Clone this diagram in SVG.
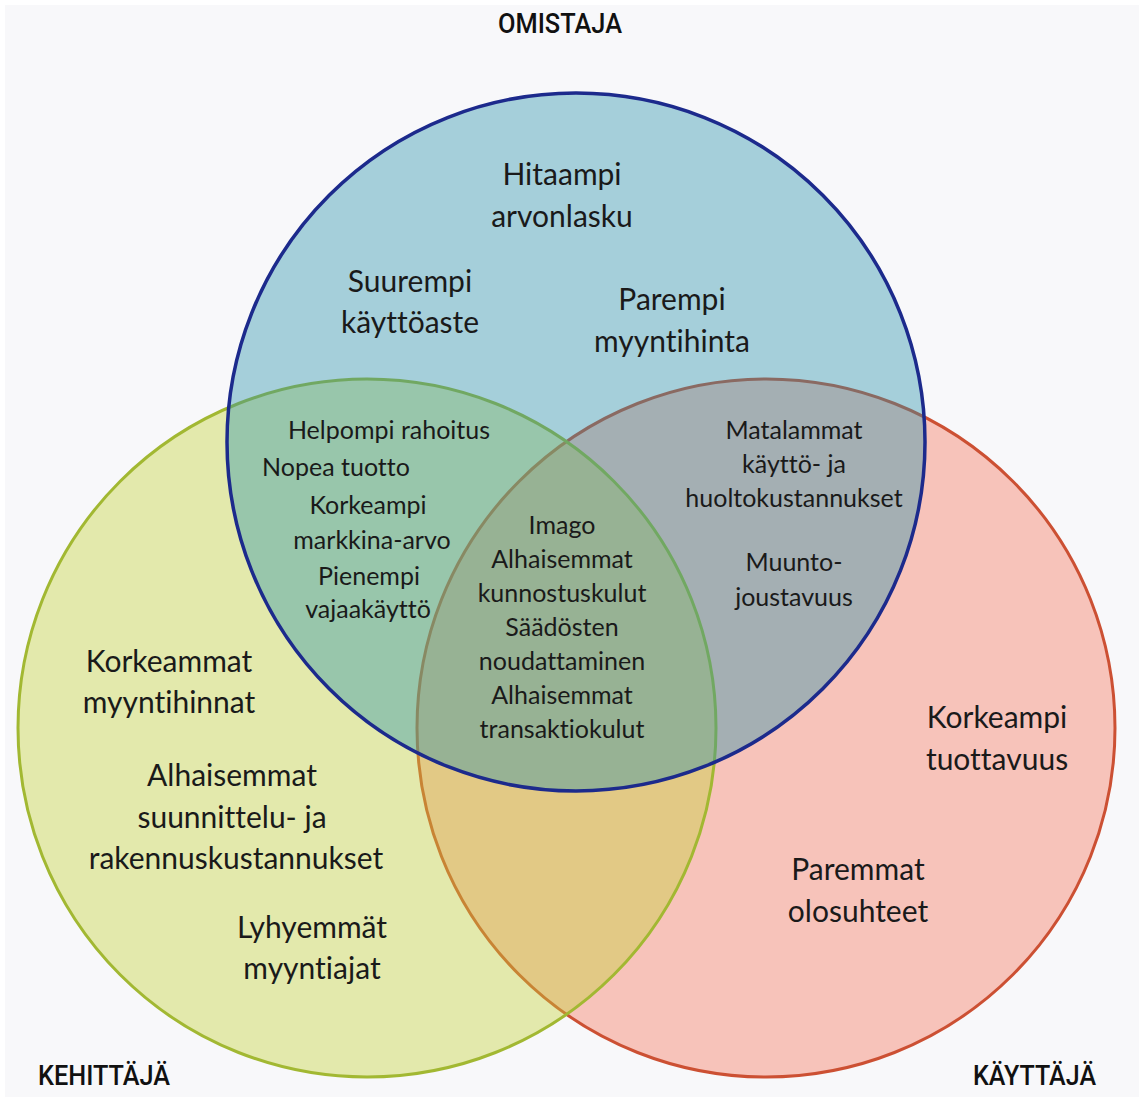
<svg xmlns="http://www.w3.org/2000/svg" width="1144" height="1102" viewBox="0 0 1144 1102">
<style>
.t{font-family:Lato,"Noto Sans","Liberation Sans",sans-serif;fill:#1a1a1a;text-anchor:middle;font-variant-ligatures:none;font-feature-settings:"liga" 0,"clig" 0}
.big{font-size:30px}
.sm{font-size:25px}
.lab{font-family:Roboto,"Liberation Sans",sans-serif;font-weight:500;font-size:27px;fill:#111}
</style>
<rect x="0" y="0" width="1144" height="1102" fill="#ffffff"/>
<rect x="5" y="5" width="1134" height="1092" fill="#f8f8fa"/>
<g id="kayttaja">
<circle cx="766" cy="728" r="349" fill="#f7c3ba" stroke="#cc5033" stroke-width="3"/>
</g>
<g id="kehittaja">
<circle cx="367" cy="728" r="349" fill="#c4d336" fill-opacity="0.4" stroke="#a2b832" stroke-width="3"/>
</g>
<g id="omistaja">
<circle cx="576" cy="442" r="349" fill="#2790ab" fill-opacity="0.4" stroke="#1c2a8c" stroke-width="3.5"/>
</g>
<g id="labels">
<text class="lab" x="560" y="33" text-anchor="middle" textLength="124" lengthAdjust="spacingAndGlyphs">OMISTAJA</text>
<text class="lab" x="38" y="1085" textLength="132" lengthAdjust="spacingAndGlyphs">KEHITTÄJÄ</text>
<text class="lab" x="973" y="1085" textLength="123" lengthAdjust="spacingAndGlyphs">KÄYTTÄJÄ</text>
</g>
<g id="omistaja-text" class="t big">
<text x="562" y="185">Hitaampi</text>
<text x="562" y="227">arvonlasku</text>
<text x="410" y="292">Suurempi</text>
<text x="410" y="333">käyttöaste</text>
<text x="672" y="310">Parempi</text>
<text x="672" y="352">myyntihinta</text>
</g>
<g id="kehittaja-text" class="t big">
<text x="169" y="672">Korkeammat</text>
<text x="169" y="713">myyntihinnat</text>
<text x="232" y="786">Alhaisemmat</text>
<text x="232" y="828">suunnittelu- ja</text>
<text x="236" y="869">rakennuskustannukset</text>
<text x="312" y="938">Lyhyemmät</text>
<text x="312" y="979">myyntiajat</text>
</g>
<g id="kayttaja-text" class="t big">
<text x="997" y="728">Korkeampi</text>
<text x="997" y="770">tuottavuus</text>
<text x="858" y="880">Paremmat</text>
<text x="858" y="922">olosuhteet</text>
</g>
<g id="omistaja-kehittaja" class="t sm">
<text x="389" y="439">Helpompi rahoitus</text>
<text x="336" y="476">Nopea tuotto</text>
<text x="368" y="514">Korkeampi</text>
<text x="372" y="549">markkina-arvo</text>
<text x="369" y="585">Pienempi</text>
<text x="368" y="618">vajaakäyttö</text>
</g>
<g id="kaikki" class="t sm">
<text x="562" y="534">Imago</text>
<text x="562" y="568">Alhaisemmat</text>
<text x="562" y="602">kunnostuskulut</text>
<text x="562" y="636">Säädösten</text>
<text x="562" y="670">noudattaminen</text>
<text x="562" y="704">Alhaisemmat</text>
<text x="562" y="738">transaktiokulut</text>
</g>
<g id="omistaja-kayttaja" class="t sm">
<text x="794" y="439">Matalammat</text>
<text x="794" y="473">käyttö- ja</text>
<text x="794" y="507">huoltokustannukset</text>
<text x="794" y="571">Muunto-</text>
<text x="794" y="606">joustavuus</text>
</g>
<g id="connectors"></g>
</svg>
